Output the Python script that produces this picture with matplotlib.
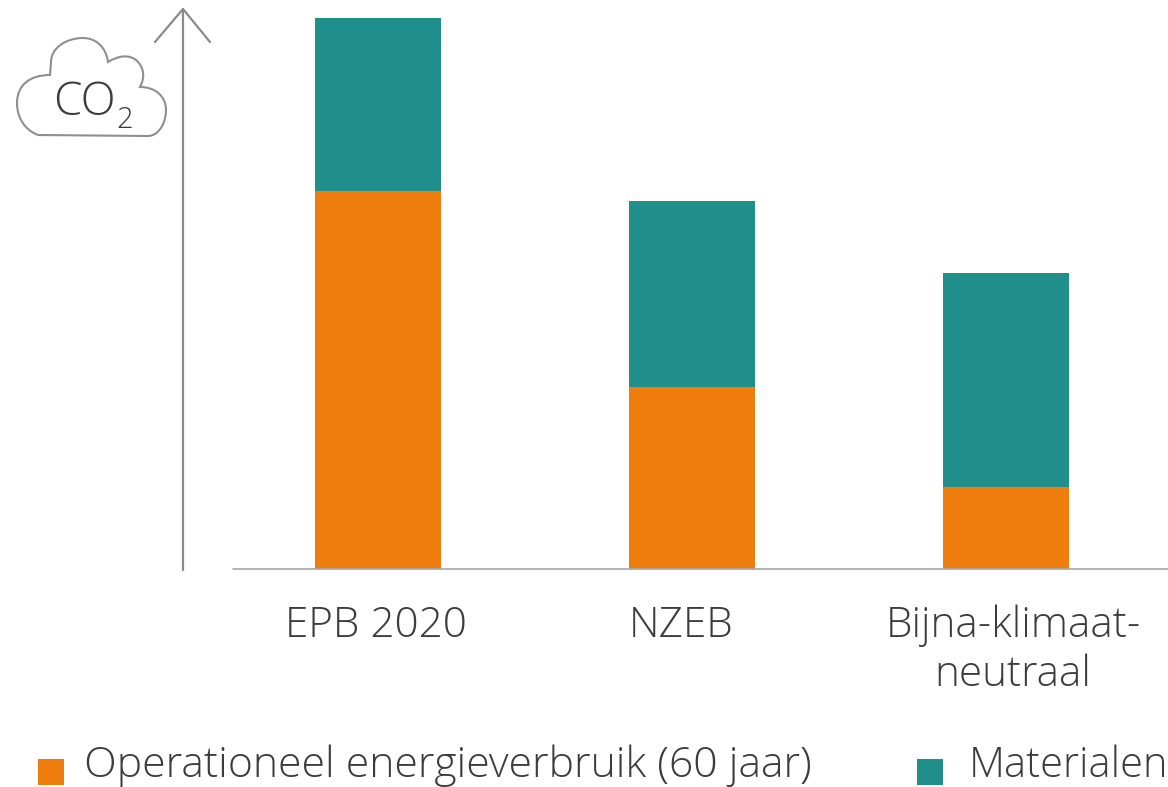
import matplotlib.pyplot as plt
from matplotlib.patches import Rectangle, PathPatch
from matplotlib.path import Path

W, H = 1168, 787

# data (pixels above the baseline, there is no scale)
categories = ['EPB 2020', 'NZEB', 'Bijna-klimaat-\nneutraal']
operationeel = [378, 182, 82]
materialen = [173, 186, 214]
legend_labels = ['Operationeel energieverbruik (60 jaar)', 'Materialen']

ORANGE = '#EE7D0E'
TEAL = '#208E8A'
GREY = '#8A8A8A'
TEXT = '#3C3C3C'

plt.rcParams['font.family'] = ['Open Sans', 'DejaVu Sans']
plt.rcParams['font.weight'] = 'light'

fig = plt.figure(figsize=(W / 100, H / 100), dpi=100)
ax = fig.add_axes([0, 0, 1, 1])

# one category step = 314 px, first bar centred on x=378, baseline on y=569
step = 314
ax.set_xlim(-378 / step, (W - 378) / step)
ax.set_ylim(-(H - 569), 569)
ax.axis('off')

x = list(range(len(categories)))
ax.bar(x, operationeel, width=126 / step, color=ORANGE)
ax.bar(x, materialen, width=126 / step, bottom=operationeel, color=TEAL)


# helper: picture pixels (y down) to figure fraction
def px(xp, yp):
    return xp / W, 1 - yp / H


def line(xs, ys, lw=1.6, color=GREY):
    pts = [px(a, b) for a, b in zip(xs, ys)]
    fig.add_artist(plt.Line2D([p[0] for p in pts], [p[1] for p in pts], color=color,
                              lw=lw, solid_capstyle='round', solid_joinstyle='round'))


# baseline and arrow
line([233, 1168], [569, 569], lw=1.2, color='#A6A6A6')
line([183, 183], [570, 9], lw=1.6)
line([155, 183, 210], [42, 9, 42], lw=1.6)

# cloud
C = Path.CURVE4
L = Path.LINETO
cloud = [
    ((38, 135), Path.MOVETO),
    ((148, 136), L),
    ((158, 136), C), ((166, 124), C), ((166, 110), C),
    ((166, 96), C), ((155, 87), C), ((140, 87), C),
    ((146, 76), C), ((143, 66), C), ((136, 60), C),
    ((128, 54), C), ((118, 56), C), ((108, 62), C),
    ((106, 47), C), ((96, 38), C), ((83, 38), C),
    ((66, 38), C), ((51, 48), C), ((51, 62), C),
    ((50, 75), L),
    ((30, 75), C), ((17, 85), C), ((17, 103), C),
    ((17, 118), C), ((25, 130), C), ((38, 135), C),
]
verts = [px(*v) for v, _ in cloud]
codes = [c for _, c in cloud]
fig.add_artist(PathPatch(Path(verts, codes), transform=fig.transFigure, fill=False,
                         edgecolor='#8F8F8F', lw=1.5))
fig.text(*px(53, 115), 'CO', fontsize=33, color=TEXT, va='baseline', ha='left')
fig.text(*px(116, 128), '2', fontsize=21, color=TEXT, va='baseline', ha='left')

# category labels
centres = [376, 681, 1013]
for c, label in zip(centres, categories):
    parts = label.split('\n')
    for i, part in enumerate(parts):
        fig.text(*px(c, 637 + i * 49), part, fontsize=30.4, color=TEXT,
                 ha='center', va='baseline')

# legend
for xp, col, label, xt, fs in zip([38, 917], [ORANGE, TEAL], legend_labels, [84, 969], [30.8, 30]):
    fig.add_artist(Rectangle(px(xp, 785), 26 / W, 26 / H, transform=fig.transFigure,
                             facecolor=col, edgecolor='none'))
    fig.text(*px(xt, 777), label, fontsize=fs, color=TEXT, ha='left', va='baseline')

fig.savefig('out.png', dpi=100)
